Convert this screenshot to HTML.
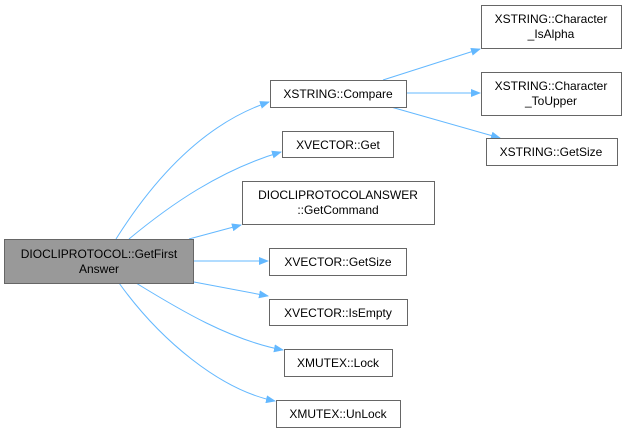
<!DOCTYPE html>
<html><head><style>
html,body{margin:0;padding:0;background:#fff;}
svg text{font-family:"Liberation Sans",Arial,sans-serif;font-size:12px;fill:#000;}
</style></head><body>
<svg width="626" height="432" viewBox="0 0 626 432" xmlns="http://www.w3.org/2000/svg">
<defs><marker id="a" markerWidth="10" markerHeight="8" refX="9" refY="4" orient="auto" markerUnits="userSpaceOnUse"><path d="M0,0 L10,4 L0,8 z" fill="#63b8ff"/></marker></defs>
<g fill="none" stroke="#63b8ff" stroke-width="1" marker-end="url(#a)">
<path d="M116,239 C150,185 200,125 269,102"/>
<path d="M129,239 C170,205 220,170 281,152"/>
<path d="M189,239 L241,225"/>
<path d="M194,261 L268,261"/>
<path d="M194,282 L268,296"/>
<path d="M136,283 C180,310 230,340 283,350"/>
<path d="M119,283 C160,340 220,390 275,401"/>
<path d="M383,80 L480,49"/>
<path d="M406,93 L480,93"/>
<path d="M391,107 L500,138"/>
</g>
<g stroke="#666" stroke-width="1">
<rect x="4.5" y="239.5" width="189" height="44" fill="#999"/>
<rect x="270.5" y="80.5" width="136" height="27" fill="#fff"/>
<rect x="282.5" y="131.5" width="111" height="26" fill="#fff"/>
<rect x="242.5" y="181.5" width="192" height="43" fill="#fff"/>
<rect x="269.5" y="248.5" width="137" height="27" fill="#fff"/>
<rect x="269.5" y="299.5" width="138" height="26" fill="#fff"/>
<rect x="284.5" y="349.5" width="108" height="27" fill="#fff"/>
<rect x="276.5" y="400.5" width="124" height="27" fill="#fff"/>
<rect x="481.5" y="5.5" width="140" height="43" fill="#fff"/>
<rect x="481.5" y="72.5" width="140" height="43" fill="#fff"/>
<rect x="486.5" y="138.5" width="131" height="27" fill="#fff"/>
</g>
<g text-anchor="middle">
<text x="99" y="258">DIOCLIPROTOCOL::GetFirst</text>
<text x="99" y="273">Answer</text>
<text x="338" y="98">XSTRING::Compare</text>
<text x="338" y="149">XVECTOR::Get</text>
<text x="338" y="199">DIOCLIPROTOCOLANSWER</text>
<text x="338" y="214">::GetCommand</text>
<text x="338" y="266">XVECTOR::GetSize</text>
<text x="338" y="317">XVECTOR::IsEmpty</text>
<text x="338" y="367">XMUTEX::Lock</text>
<text x="338" y="418">XMUTEX::UnLock</text>
<text x="551" y="23">XSTRING::Character</text>
<text x="551" y="38">_IsAlpha</text>
<text x="551" y="90">XSTRING::Character</text>
<text x="551" y="105">_ToUpper</text>
<text x="551" y="156">XSTRING::GetSize</text>
</g>
</svg>
</body></html>
